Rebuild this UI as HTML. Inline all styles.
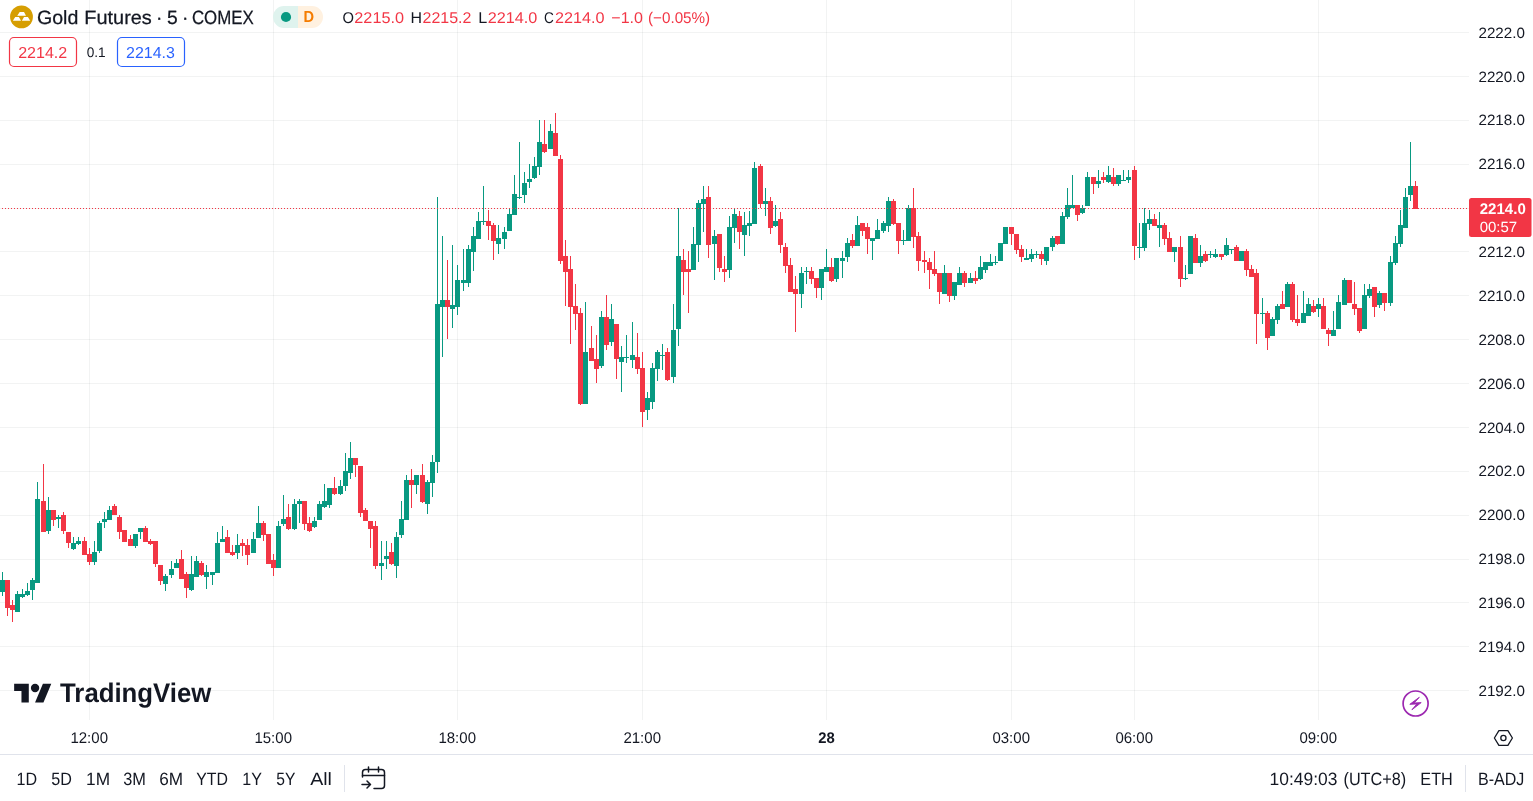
<!DOCTYPE html>
<html lang="en"><head><meta charset="utf-8"><title>Gold Futures · 5 · COMEX</title>
<style>html,body{margin:0;padding:0;background:#fff;overflow:hidden}body{width:1533px;height:801px;position:relative}svg{position:absolute;left:0;top:0;display:block}text{font-family:"Liberation Sans",sans-serif;white-space:pre;text-rendering:geometricPrecision}</style>
</head><body>
<svg width="1533" height="801" viewBox="0 0 1533 801">
<rect width="1533" height="801" fill="#fff"/>
<g stroke="#2a2e39" stroke-opacity="0.06" stroke-width="1" shape-rendering="crispEdges">
<line x1="0" y1="32.5" x2="1469" y2="32.5"/>
<line x1="0" y1="76.5" x2="1469" y2="76.5"/>
<line x1="0" y1="120.5" x2="1469" y2="120.5"/>
<line x1="0" y1="164.5" x2="1469" y2="164.5"/>
<line x1="0" y1="208.5" x2="1469" y2="208.5"/>
<line x1="0" y1="251.5" x2="1469" y2="251.5"/>
<line x1="0" y1="295.5" x2="1469" y2="295.5"/>
<line x1="0" y1="339.5" x2="1469" y2="339.5"/>
<line x1="0" y1="383.5" x2="1469" y2="383.5"/>
<line x1="0" y1="427.5" x2="1469" y2="427.5"/>
<line x1="0" y1="471.5" x2="1469" y2="471.5"/>
<line x1="0" y1="515.5" x2="1469" y2="515.5"/>
<line x1="0" y1="559.5" x2="1469" y2="559.5"/>
<line x1="0" y1="602.5" x2="1469" y2="602.5"/>
<line x1="0" y1="646.5" x2="1469" y2="646.5"/>
<line x1="0" y1="690.5" x2="1469" y2="690.5"/>
<line x1="89.5" y1="0" x2="89.5" y2="719.5"/>
<line x1="273.5" y1="0" x2="273.5" y2="719.5"/>
<line x1="457.5" y1="0" x2="457.5" y2="719.5"/>
<line x1="642.5" y1="0" x2="642.5" y2="719.5"/>
<line x1="826.5" y1="0" x2="826.5" y2="719.5"/>
<line x1="1011.5" y1="0" x2="1011.5" y2="719.5"/>
<line x1="1134.5" y1="0" x2="1134.5" y2="719.5"/>
<line x1="1318.5" y1="0" x2="1318.5" y2="719.5"/>
</g>
<g id="candles">
<path fill="#089981" d="M2 572h1V596h-1zM0 580h5V592h-5z"/>
<path fill="#f23645" d="M7 580h1V616h-1zM5 580h5V608h-5z"/>
<path fill="#f23645" d="M12 600h1V622h-1zM10 605h5V610h-5z"/>
<path fill="#089981" d="M17 591h1V612h-1zM15 594h5V612h-5z"/>
<path fill="#089981" d="M22 589h1V598h-1zM20 594h5V597h-5z"/>
<path fill="#089981" d="M27 583h1V596h-1zM25 591h5V595h-5z"/>
<path fill="#089981" d="M32 578h1V600h-1zM30 580h5V590h-5z"/>
<path fill="#089981" d="M37 482h1V583h-1zM35 499h5V583h-5z"/>
<path fill="#f23645" d="M43 464h1V532h-1zM41 501h5V532h-5z"/>
<path fill="#089981" d="M48 497h1V534h-1zM46 510h5V531h-5z"/>
<path fill="#f23645" d="M53 510h1V526h-1zM51 510h5V520h-5z"/>
<path fill="#089981" d="M58 515h1V528h-1zM56 517h5V519h-5z"/>
<path fill="#f23645" d="M63 512h1V534h-1zM61 515h5V531h-5z"/>
<path fill="#f23645" d="M68 532h1V548h-1zM66 532h5V543h-5z"/>
<path fill="#089981" d="M73 537h1V550h-1zM71 543h5V549h-5z"/>
<path fill="#089981" d="M78 537h1V545h-1zM76 541h5V544h-5z"/>
<path fill="#f23645" d="M84 537h1V555h-1zM82 541h5V555h-5z"/>
<path fill="#f23645" d="M89 548h1V565h-1zM87 554h5V562h-5z"/>
<path fill="#089981" d="M94 541h1V565h-1zM92 552h5V562h-5z"/>
<path fill="#089981" d="M99 521h1V553h-1zM97 523h5V551h-5z"/>
<path fill="#089981" d="M104 512h1V528h-1zM102 519h5V522h-5z"/>
<path fill="#089981" d="M109 506h1V520h-1zM107 510h5V520h-5z"/>
<path fill="#f23645" d="M114 504h1V515h-1zM112 506h5V515h-5z"/>
<path fill="#f23645" d="M119 515h1V539h-1zM117 517h5V532h-5z"/>
<path fill="#f23645" d="M124 530h1V542h-1zM122 530h5V542h-5z"/>
<path fill="#f23645" d="M130 535h1V546h-1zM128 539h5V546h-5z"/>
<path fill="#089981" d="M135 534h1V548h-1zM133 534h5V546h-5z"/>
<path fill="#089981" d="M140 528h1V539h-1zM138 528h5V532h-5z"/>
<path fill="#f23645" d="M145 526h1V542h-1zM143 528h5V542h-5z"/>
<path fill="#f23645" d="M150 539h1V545h-1zM148 541h5V544h-5z"/>
<path fill="#f23645" d="M155 541h1V567h-1zM153 541h5V564h-5z"/>
<path fill="#f23645" d="M160 565h1V585h-1zM158 565h5V581h-5z"/>
<path fill="#089981" d="M165 574h1V591h-1zM163 576h5V584h-5z"/>
<path fill="#089981" d="M171 561h1V578h-1zM169 569h5V575h-5z"/>
<path fill="#089981" d="M176 559h1V568h-1zM174 563h5V568h-5z"/>
<path fill="#f23645" d="M181 550h1V579h-1zM179 559h5V579h-5z"/>
<path fill="#f23645" d="M186 572h1V598h-1zM184 574h5V588h-5z"/>
<path fill="#089981" d="M191 556h1V591h-1zM189 574h5V590h-5z"/>
<path fill="#089981" d="M196 556h1V577h-1zM194 561h5V577h-5z"/>
<path fill="#f23645" d="M201 561h1V576h-1zM199 563h5V575h-5z"/>
<path fill="#089981" d="M206 565h1V589h-1zM204 572h5V577h-5z"/>
<path fill="#089981" d="M212 572h1V585h-1zM210 572h5V575h-5z"/>
<path fill="#089981" d="M217 532h1V573h-1zM215 543h5V573h-5z"/>
<path fill="#089981" d="M222 526h1V542h-1zM220 539h5V542h-5z"/>
<path fill="#f23645" d="M227 530h1V553h-1zM225 537h5V553h-5z"/>
<path fill="#f23645" d="M232 545h1V556h-1zM230 552h5V555h-5z"/>
<path fill="#089981" d="M237 534h1V559h-1zM235 545h5V553h-5z"/>
<path fill="#f23645" d="M242 539h1V556h-1zM240 543h5V546h-5z"/>
<path fill="#f23645" d="M247 539h1V565h-1zM245 545h5V555h-5z"/>
<path fill="#089981" d="M253 532h1V553h-1zM251 539h5V553h-5z"/>
<path fill="#089981" d="M258 506h1V538h-1zM256 523h5V538h-5z"/>
<path fill="#f23645" d="M263 521h1V541h-1zM261 523h5V535h-5z"/>
<path fill="#f23645" d="M268 534h1V564h-1zM266 534h5V564h-5z"/>
<path fill="#f23645" d="M273 554h1V576h-1zM271 560h5V568h-5z"/>
<path fill="#089981" d="M278 521h1V568h-1zM276 526h5V568h-5z"/>
<path fill="#089981" d="M283 495h1V526h-1zM281 519h5V524h-5z"/>
<path fill="#f23645" d="M288 504h1V530h-1zM286 517h5V529h-5z"/>
<path fill="#089981" d="M294 499h1V530h-1zM292 504h5V529h-5z"/>
<path fill="#089981" d="M299 499h1V523h-1zM297 501h5V504h-5z"/>
<path fill="#f23645" d="M304 501h1V530h-1zM302 501h5V524h-5z"/>
<path fill="#f23645" d="M309 517h1V532h-1zM307 523h5V531h-5z"/>
<path fill="#089981" d="M314 517h1V528h-1zM312 521h5V527h-5z"/>
<path fill="#089981" d="M319 501h1V520h-1zM317 504h5V520h-5z"/>
<path fill="#089981" d="M324 484h1V508h-1zM322 501h5V507h-5z"/>
<path fill="#089981" d="M329 488h1V508h-1zM327 488h5V505h-5z"/>
<path fill="#f23645" d="M334 477h1V495h-1zM332 488h5V494h-5z"/>
<path fill="#089981" d="M340 480h1V495h-1zM338 486h5V494h-5z"/>
<path fill="#089981" d="M345 453h1V491h-1zM343 471h5V486h-5z"/>
<path fill="#089981" d="M350 442h1V479h-1zM348 458h5V473h-5z"/>
<path fill="#f23645" d="M355 458h1V477h-1zM353 458h5V465h-5z"/>
<path fill="#f23645" d="M360 466h1V517h-1zM358 466h5V513h-5z"/>
<path fill="#f23645" d="M365 508h1V521h-1zM363 510h5V521h-5z"/>
<path fill="#f23645" d="M370 521h1V548h-1zM368 521h5V529h-5z"/>
<path fill="#f23645" d="M375 521h1V569h-1zM373 526h5V566h-5z"/>
<path fill="#089981" d="M381 541h1V580h-1zM379 563h5V566h-5z"/>
<path fill="#089981" d="M386 541h1V569h-1zM384 556h5V559h-5z"/>
<path fill="#f23645" d="M391 543h1V565h-1zM389 552h5V564h-5z"/>
<path fill="#089981" d="M396 532h1V578h-1zM394 537h5V566h-5z"/>
<path fill="#089981" d="M401 501h1V538h-1zM399 519h5V535h-5z"/>
<path fill="#089981" d="M406 475h1V520h-1zM404 480h5V520h-5z"/>
<path fill="#f23645" d="M411 469h1V508h-1zM409 480h5V485h-5z"/>
<path fill="#089981" d="M416 475h1V494h-1zM414 475h5V485h-5z"/>
<path fill="#f23645" d="M422 464h1V503h-1zM420 475h5V502h-5z"/>
<path fill="#089981" d="M427 480h1V514h-1zM425 482h5V504h-5z"/>
<path fill="#089981" d="M432 455h1V497h-1zM430 462h5V483h-5z"/>
<path fill="#089981" d="M437 197h1V473h-1zM435 304h5V462h-5z"/>
<path fill="#089981" d="M442 236h1V357h-1zM440 300h5V307h-5z"/>
<path fill="#f23645" d="M447 260h1V339h-1zM445 300h5V307h-5z"/>
<path fill="#089981" d="M452 245h1V328h-1zM450 305h5V309h-5z"/>
<path fill="#089981" d="M457 265h1V315h-1zM455 280h5V307h-5z"/>
<path fill="#089981" d="M463 249h1V291h-1zM461 280h5V283h-5z"/>
<path fill="#089981" d="M468 245h1V287h-1zM466 249h5V283h-5z"/>
<path fill="#089981" d="M473 227h1V271h-1zM471 236h5V252h-5z"/>
<path fill="#089981" d="M478 212h1V239h-1zM476 221h5V239h-5z"/>
<path fill="#089981" d="M483 186h1V225h-1zM481 221h5V222h-5z"/>
<path fill="#f23645" d="M488 210h1V240h-1zM486 221h5V226h-5z"/>
<path fill="#f23645" d="M493 223h1V260h-1zM491 225h5V241h-5z"/>
<path fill="#089981" d="M498 225h1V254h-1zM496 238h5V244h-5z"/>
<path fill="#089981" d="M504 227h1V249h-1zM502 232h5V239h-5z"/>
<path fill="#089981" d="M509 208h1V231h-1zM507 214h5V231h-5z"/>
<path fill="#089981" d="M514 175h1V215h-1zM512 194h5V215h-5z"/>
<path fill="#089981" d="M519 142h1V199h-1zM517 197h5V198h-5z"/>
<path fill="#089981" d="M524 172h1V203h-1zM522 183h5V195h-5z"/>
<path fill="#089981" d="M529 164h1V188h-1zM527 179h5V182h-5z"/>
<path fill="#089981" d="M534 157h1V179h-1zM532 166h5V178h-5z"/>
<path fill="#089981" d="M539 120h1V175h-1zM537 142h5V167h-5z"/>
<path fill="#f23645" d="M544 120h1V153h-1zM542 144h5V152h-5z"/>
<path fill="#089981" d="M550 124h1V149h-1zM548 131h5V149h-5z"/>
<path fill="#f23645" d="M555 113h1V156h-1zM553 133h5V156h-5z"/>
<path fill="#f23645" d="M560 155h1V264h-1zM558 159h5V261h-5z"/>
<path fill="#f23645" d="M565 240h1V306h-1zM563 256h5V272h-5z"/>
<path fill="#f23645" d="M570 256h1V344h-1zM568 269h5V307h-5z"/>
<path fill="#f23645" d="M575 284h1V330h-1zM573 306h5V314h-5z"/>
<path fill="#f23645" d="M580 308h1V405h-1zM578 313h5V404h-5z"/>
<path fill="#089981" d="M585 302h1V404h-1zM583 352h5V404h-5z"/>
<path fill="#f23645" d="M591 326h1V361h-1zM589 348h5V361h-5z"/>
<path fill="#f23645" d="M596 335h1V383h-1zM594 359h5V369h-5z"/>
<path fill="#089981" d="M601 311h1V368h-1zM599 317h5V366h-5z"/>
<path fill="#f23645" d="M606 295h1V350h-1zM604 317h5V345h-5z"/>
<path fill="#089981" d="M611 304h1V346h-1zM609 319h5V342h-5z"/>
<path fill="#f23645" d="M616 324h1V379h-1zM614 324h5V359h-5z"/>
<path fill="#089981" d="M621 346h1V392h-1zM619 357h5V362h-5z"/>
<path fill="#089981" d="M626 335h1V363h-1zM624 357h5V358h-5z"/>
<path fill="#089981" d="M632 322h1V368h-1zM630 355h5V360h-5z"/>
<path fill="#f23645" d="M637 333h1V374h-1zM635 357h5V369h-5z"/>
<path fill="#f23645" d="M642 352h1V427h-1zM640 368h5V412h-5z"/>
<path fill="#089981" d="M647 392h1V420h-1zM645 398h5V410h-5z"/>
<path fill="#089981" d="M652 363h1V409h-1zM650 368h5V402h-5z"/>
<path fill="#089981" d="M657 350h1V381h-1zM655 352h5V369h-5z"/>
<path fill="#089981" d="M662 344h1V370h-1zM660 355h5V356h-5z"/>
<path fill="#f23645" d="M667 348h1V381h-1zM665 352h5V380h-5z"/>
<path fill="#089981" d="M673 304h1V383h-1zM671 330h5V377h-5z"/>
<path fill="#089981" d="M678 208h1V346h-1zM676 256h5V329h-5z"/>
<path fill="#f23645" d="M683 249h1V295h-1zM681 260h5V272h-5z"/>
<path fill="#f23645" d="M688 251h1V313h-1zM686 269h5V272h-5z"/>
<path fill="#089981" d="M693 227h1V270h-1zM691 244h5V270h-5z"/>
<path fill="#089981" d="M698 200h1V262h-1zM696 203h5V245h-5z"/>
<path fill="#089981" d="M703 186h1V232h-1zM701 199h5V204h-5z"/>
<path fill="#f23645" d="M708 186h1V258h-1zM706 197h5V245h-5z"/>
<path fill="#089981" d="M714 230h1V280h-1zM712 236h5V244h-5z"/>
<path fill="#f23645" d="M719 234h1V272h-1zM717 234h5V268h-5z"/>
<path fill="#f23645" d="M724 256h1V282h-1zM722 269h5V272h-5z"/>
<path fill="#089981" d="M729 216h1V278h-1zM727 227h5V270h-5z"/>
<path fill="#089981" d="M734 208h1V243h-1zM732 214h5V228h-5z"/>
<path fill="#f23645" d="M739 211h1V249h-1zM737 216h5V232h-5z"/>
<path fill="#089981" d="M744 212h1V256h-1zM742 225h5V235h-5z"/>
<path fill="#089981" d="M749 211h1V236h-1zM747 223h5V226h-5z"/>
<path fill="#089981" d="M754 162h1V224h-1zM752 168h5V224h-5z"/>
<path fill="#f23645" d="M760 164h1V208h-1zM758 166h5V204h-5z"/>
<path fill="#089981" d="M765 188h1V216h-1zM763 201h5V204h-5z"/>
<path fill="#f23645" d="M770 197h1V234h-1zM768 201h5V228h-5z"/>
<path fill="#089981" d="M775 205h1V227h-1zM773 221h5V226h-5z"/>
<path fill="#f23645" d="M780 212h1V253h-1zM778 219h5V245h-5z"/>
<path fill="#f23645" d="M785 243h1V273h-1zM783 247h5V266h-5z"/>
<path fill="#f23645" d="M790 258h1V292h-1zM788 265h5V292h-5z"/>
<path fill="#f23645" d="M795 276h1V332h-1zM793 289h5V294h-5z"/>
<path fill="#089981" d="M801 267h1V308h-1zM799 273h5V294h-5z"/>
<path fill="#089981" d="M806 267h1V284h-1zM804 271h5V272h-5z"/>
<path fill="#f23645" d="M811 267h1V284h-1zM809 271h5V279h-5z"/>
<path fill="#f23645" d="M816 278h1V298h-1zM814 278h5V288h-5z"/>
<path fill="#089981" d="M821 269h1V300h-1zM819 269h5V288h-5z"/>
<path fill="#089981" d="M826 249h1V272h-1zM824 267h5V272h-5z"/>
<path fill="#f23645" d="M831 258h1V282h-1zM829 267h5V281h-5z"/>
<path fill="#089981" d="M836 258h1V282h-1zM834 258h5V279h-5z"/>
<path fill="#089981" d="M842 251h1V278h-1zM840 258h5V261h-5z"/>
<path fill="#089981" d="M847 238h1V262h-1zM845 243h5V257h-5z"/>
<path fill="#f23645" d="M852 234h1V248h-1zM850 240h5V246h-5z"/>
<path fill="#089981" d="M857 216h1V246h-1zM855 225h5V246h-5z"/>
<path fill="#f23645" d="M862 223h1V236h-1zM860 223h5V231h-5z"/>
<path fill="#f23645" d="M867 223h1V254h-1zM865 227h5V239h-5z"/>
<path fill="#089981" d="M872 238h1V260h-1zM870 238h5V241h-5z"/>
<path fill="#089981" d="M877 219h1V239h-1zM875 230h5V239h-5z"/>
<path fill="#089981" d="M883 221h1V233h-1zM881 223h5V231h-5z"/>
<path fill="#089981" d="M888 197h1V232h-1zM886 201h5V226h-5z"/>
<path fill="#f23645" d="M893 199h1V225h-1zM891 201h5V224h-5z"/>
<path fill="#f23645" d="M898 223h1V254h-1zM896 223h5V241h-5z"/>
<path fill="#089981" d="M903 230h1V245h-1zM901 240h5V241h-5z"/>
<path fill="#089981" d="M908 205h1V241h-1zM906 208h5V241h-5z"/>
<path fill="#f23645" d="M913 188h1V248h-1zM911 208h5V237h-5z"/>
<path fill="#f23645" d="M918 232h1V271h-1zM916 236h5V261h-5z"/>
<path fill="#f23645" d="M924 251h1V273h-1zM922 260h5V262h-5z"/>
<path fill="#f23645" d="M929 258h1V289h-1zM927 262h5V270h-5z"/>
<path fill="#f23645" d="M934 251h1V276h-1zM932 269h5V274h-5z"/>
<path fill="#f23645" d="M939 273h1V304h-1zM937 273h5V292h-5z"/>
<path fill="#089981" d="M944 265h1V294h-1zM942 273h5V294h-5z"/>
<path fill="#f23645" d="M949 273h1V302h-1zM947 273h5V296h-5z"/>
<path fill="#089981" d="M954 282h1V300h-1zM952 282h5V296h-5z"/>
<path fill="#089981" d="M959 267h1V285h-1zM957 273h5V285h-5z"/>
<path fill="#f23645" d="M964 271h1V287h-1zM962 273h5V283h-5z"/>
<path fill="#089981" d="M970 273h1V283h-1zM968 278h5V283h-5z"/>
<path fill="#f23645" d="M975 271h1V284h-1zM973 278h5V281h-5z"/>
<path fill="#089981" d="M980 256h1V280h-1zM978 267h5V279h-5z"/>
<path fill="#089981" d="M985 262h1V273h-1zM983 262h5V270h-5z"/>
<path fill="#089981" d="M990 254h1V266h-1zM988 262h5V266h-5z"/>
<path fill="#089981" d="M995 256h1V265h-1zM993 262h5V263h-5z"/>
<path fill="#089981" d="M1000 243h1V261h-1zM998 243h5V261h-5z"/>
<path fill="#089981" d="M1005 227h1V244h-1zM1003 227h5V244h-5z"/>
<path fill="#f23645" d="M1011 227h1V245h-1zM1009 227h5V234h-5z"/>
<path fill="#f23645" d="M1016 234h1V254h-1zM1014 234h5V250h-5z"/>
<path fill="#f23645" d="M1021 245h1V262h-1zM1019 249h5V257h-5z"/>
<path fill="#089981" d="M1026 249h1V260h-1zM1024 258h5V260h-5z"/>
<path fill="#089981" d="M1031 249h1V262h-1zM1029 254h5V259h-5z"/>
<path fill="#089981" d="M1036 251h1V258h-1zM1034 254h5V255h-5z"/>
<path fill="#f23645" d="M1041 251h1V265h-1zM1039 254h5V259h-5z"/>
<path fill="#089981" d="M1046 247h1V265h-1zM1044 247h5V261h-5z"/>
<path fill="#089981" d="M1052 236h1V251h-1zM1050 238h5V247h-5z"/>
<path fill="#f23645" d="M1057 236h1V245h-1zM1055 236h5V244h-5z"/>
<path fill="#089981" d="M1062 212h1V244h-1zM1060 216h5V244h-5z"/>
<path fill="#089981" d="M1067 188h1V219h-1zM1065 205h5V217h-5z"/>
<path fill="#089981" d="M1072 175h1V208h-1zM1070 205h5V208h-5z"/>
<path fill="#f23645" d="M1077 205h1V221h-1zM1075 205h5V215h-5z"/>
<path fill="#089981" d="M1082 205h1V214h-1zM1080 208h5V213h-5z"/>
<path fill="#089981" d="M1087 172h1V206h-1zM1085 177h5V206h-5z"/>
<path fill="#f23645" d="M1093 177h1V194h-1zM1091 177h5V184h-5z"/>
<path fill="#089981" d="M1098 170h1V188h-1zM1096 181h5V184h-5z"/>
<path fill="#f23645" d="M1103 172h1V183h-1zM1101 177h5V180h-5z"/>
<path fill="#089981" d="M1108 166h1V183h-1zM1106 175h5V182h-5z"/>
<path fill="#f23645" d="M1113 168h1V186h-1zM1111 177h5V184h-5z"/>
<path fill="#089981" d="M1118 175h1V186h-1zM1116 175h5V184h-5z"/>
<path fill="#089981" d="M1123 170h1V181h-1zM1121 180h5V181h-5z"/>
<path fill="#089981" d="M1128 170h1V183h-1zM1126 177h5V180h-5z"/>
<path fill="#f23645" d="M1134 166h1V260h-1zM1132 170h5V246h-5z"/>
<path fill="#089981" d="M1139 223h1V258h-1zM1137 247h5V248h-5z"/>
<path fill="#089981" d="M1144 208h1V251h-1zM1142 223h5V248h-5z"/>
<path fill="#089981" d="M1149 210h1V230h-1zM1147 219h5V224h-5z"/>
<path fill="#f23645" d="M1154 214h1V226h-1zM1152 219h5V226h-5z"/>
<path fill="#089981" d="M1159 212h1V247h-1zM1157 225h5V228h-5z"/>
<path fill="#f23645" d="M1164 223h1V245h-1zM1162 225h5V239h-5z"/>
<path fill="#f23645" d="M1169 232h1V252h-1zM1167 238h5V252h-5z"/>
<path fill="#089981" d="M1174 247h1V262h-1zM1172 247h5V252h-5z"/>
<path fill="#f23645" d="M1180 236h1V287h-1zM1178 247h5V279h-5z"/>
<path fill="#089981" d="M1185 265h1V280h-1zM1183 278h5V279h-5z"/>
<path fill="#089981" d="M1190 236h1V274h-1zM1188 236h5V274h-5z"/>
<path fill="#f23645" d="M1195 234h1V263h-1zM1193 238h5V263h-5z"/>
<path fill="#089981" d="M1200 245h1V267h-1zM1198 256h5V263h-5z"/>
<path fill="#f23645" d="M1205 251h1V262h-1zM1203 254h5V261h-5z"/>
<path fill="#089981" d="M1210 251h1V258h-1zM1208 254h5V255h-5z"/>
<path fill="#089981" d="M1215 249h1V258h-1zM1213 254h5V257h-5z"/>
<path fill="#f23645" d="M1221 254h1V260h-1zM1219 254h5V257h-5z"/>
<path fill="#089981" d="M1226 238h1V256h-1zM1224 245h5V255h-5z"/>
<path fill="#089981" d="M1231 249h1V254h-1zM1229 249h5V250h-5z"/>
<path fill="#f23645" d="M1236 245h1V261h-1zM1234 247h5V261h-5z"/>
<path fill="#089981" d="M1241 251h1V261h-1zM1239 251h5V261h-5z"/>
<path fill="#f23645" d="M1246 249h1V276h-1zM1244 251h5V270h-5z"/>
<path fill="#f23645" d="M1251 265h1V277h-1zM1249 269h5V277h-5z"/>
<path fill="#f23645" d="M1256 269h1V344h-1zM1254 273h5V314h-5z"/>
<path fill="#089981" d="M1262 298h1V324h-1zM1260 313h5V314h-5z"/>
<path fill="#f23645" d="M1267 311h1V350h-1zM1265 313h5V338h-5z"/>
<path fill="#089981" d="M1272 317h1V336h-1zM1270 319h5V336h-5z"/>
<path fill="#089981" d="M1277 304h1V324h-1zM1275 306h5V320h-5z"/>
<path fill="#f23645" d="M1282 291h1V309h-1zM1280 304h5V309h-5z"/>
<path fill="#089981" d="M1287 282h1V307h-1zM1285 284h5V307h-5z"/>
<path fill="#f23645" d="M1292 282h1V322h-1zM1290 284h5V320h-5z"/>
<path fill="#f23645" d="M1297 295h1V326h-1zM1295 319h5V323h-5z"/>
<path fill="#089981" d="M1303 291h1V323h-1zM1301 313h5V323h-5z"/>
<path fill="#089981" d="M1308 298h1V316h-1zM1306 304h5V316h-5z"/>
<path fill="#f23645" d="M1313 300h1V313h-1zM1311 306h5V312h-5z"/>
<path fill="#089981" d="M1318 298h1V317h-1zM1316 304h5V309h-5z"/>
<path fill="#f23645" d="M1323 298h1V329h-1zM1321 306h5V329h-5z"/>
<path fill="#f23645" d="M1328 328h1V346h-1zM1326 330h5V334h-5z"/>
<path fill="#089981" d="M1333 311h1V336h-1zM1331 330h5V336h-5z"/>
<path fill="#089981" d="M1338 295h1V329h-1zM1336 302h5V329h-5z"/>
<path fill="#089981" d="M1344 278h1V305h-1zM1342 280h5V305h-5z"/>
<path fill="#f23645" d="M1349 280h1V303h-1zM1347 280h5V303h-5z"/>
<path fill="#f23645" d="M1354 282h1V315h-1zM1352 304h5V309h-5z"/>
<path fill="#f23645" d="M1359 308h1V333h-1zM1357 308h5V331h-5z"/>
<path fill="#089981" d="M1364 284h1V329h-1zM1362 295h5V329h-5z"/>
<path fill="#089981" d="M1369 284h1V298h-1zM1367 289h5V296h-5z"/>
<path fill="#f23645" d="M1374 287h1V317h-1zM1372 287h5V307h-5z"/>
<path fill="#089981" d="M1379 291h1V308h-1zM1377 293h5V305h-5z"/>
<path fill="#f23645" d="M1384 293h1V311h-1zM1382 293h5V303h-5z"/>
<path fill="#089981" d="M1390 256h1V306h-1zM1388 262h5V303h-5z"/>
<path fill="#089981" d="M1395 236h1V265h-1zM1393 243h5V263h-5z"/>
<path fill="#089981" d="M1400 210h1V247h-1zM1398 225h5V244h-5z"/>
<path fill="#089981" d="M1405 188h1V228h-1zM1403 197h5V228h-5z"/>
<path fill="#089981" d="M1410 142h1V201h-1zM1408 186h5V195h-5z"/>
<path fill="#f23645" d="M1415 181h1V209h-1zM1413 186h5V209h-5z"/>
</g>
<!-- last price dotted line -->
<line x1="2" y1="208.5" x2="1469" y2="208.5" stroke="#f23645" stroke-width="1" stroke-dasharray="1 2" shape-rendering="crispEdges"/>
<!-- header: symbol -->
<g id="legend">
<circle cx="21.5" cy="16.9" r="11.4" fill="#d69e02"/>
<path fill="#fff" d="M19.7 11.9H24L26 15.700H17.200zM15.200 17H18.900L21 20.700H12.900zM24 17H27.900L30.200 20.700H21.900z"/>
<text y="24" font-size="19.23" fill="#131722" stroke="#131722" stroke-width="0.25"><tspan x="37.01" textLength="41.38" lengthAdjust="spacingAndGlyphs">Gold</tspan> <tspan x="84.3" textLength="67.54" lengthAdjust="spacingAndGlyphs">Futures</tspan> <tspan x="156">·</tspan> <tspan x="167.12" textLength="10.75" lengthAdjust="spacingAndGlyphs">5</tspan> <tspan x="182">·</tspan> <tspan x="191.9" textLength="61.86" lengthAdjust="spacingAndGlyphs">COMEX</tspan></text>
<path d="M284 6h14v22h-14a11 11 0 0 1 0-22z" fill="#dff3ee"/>
<path d="M298 6h14a11 11 0 0 1 0 22h-14z" fill="#fff1e0"/>
<circle cx="286" cy="17" r="5.1" fill="#089981"/>
<text x="303.62" y="22" font-size="15.98" font-weight="bold" fill="#f57c00" textLength="10.58" lengthAdjust="spacingAndGlyphs">D</text>
<text x="342.46" y="23" font-size="15.58" fill="#131722" textLength="11.46" lengthAdjust="spacingAndGlyphs">O</text><text x="354.33" y="23" font-size="15.58" fill="#f23645" textLength="49.67" lengthAdjust="spacingAndGlyphs">2215.0</text>
<text x="410.49" y="23" font-size="15.58" fill="#131722" textLength="11.53" lengthAdjust="spacingAndGlyphs">H</text><text x="422.63" y="23" font-size="15.58" fill="#f23645" textLength="48.8" lengthAdjust="spacingAndGlyphs">2215.2</text>
<text x="478.39" y="23" font-size="15.58" fill="#131722" textLength="8.99" lengthAdjust="spacingAndGlyphs">L</text><text x="487.75" y="23" font-size="15.58" fill="#f23645" textLength="49.61" lengthAdjust="spacingAndGlyphs">2214.0</text>
<text x="544.04" y="23" font-size="15.58" fill="#131722" textLength="9.81" lengthAdjust="spacingAndGlyphs">C</text><text x="554.95" y="23" font-size="15.58" fill="#f23645" textLength="49.54" lengthAdjust="spacingAndGlyphs">2214.0</text>
<text x="611.39" y="23" font-size="15.58" fill="#f23645" textLength="31.59" lengthAdjust="spacingAndGlyphs">−1.0</text>
<text x="648" y="23" font-size="15.58" fill="#f23645" textLength="62.16" lengthAdjust="spacingAndGlyphs">(−0.05%)</text>
<rect x="9.5" y="37.5" width="67" height="29" rx="4.5" fill="#fff" stroke="#f23645" stroke-width="1.2"/>
<text x="18.15" y="58" font-size="15.83" fill="#f23645" textLength="49.08" lengthAdjust="spacingAndGlyphs">2214.2</text>
<text x="86.74" y="57" font-size="13.8" fill="#131722" textLength="18.97" lengthAdjust="spacingAndGlyphs">0.1</text>
<rect x="117.5" y="37.5" width="67" height="29" rx="4.5" fill="#fff" stroke="#2962ff" stroke-width="1.2"/>
<text x="126.11" y="58" font-size="15.83" fill="#2962ff" textLength="48.81" lengthAdjust="spacingAndGlyphs">2214.3</text>
</g>
<!-- price axis -->
<g id="paxis" font-size="14.96" fill="#131722">
<text x="1478.46" y="38" textLength="46.52" lengthAdjust="spacingAndGlyphs">2222.0</text>
<text x="1478.46" y="82" textLength="46.52" lengthAdjust="spacingAndGlyphs">2220.0</text>
<text x="1478.46" y="125" textLength="46.52" lengthAdjust="spacingAndGlyphs">2218.0</text>
<text x="1478.46" y="169" textLength="46.52" lengthAdjust="spacingAndGlyphs">2216.0</text>
<text x="1478.46" y="214" textLength="46.52" lengthAdjust="spacingAndGlyphs">2214.0</text>
<text x="1478.46" y="257" textLength="46.52" lengthAdjust="spacingAndGlyphs">2212.0</text>
<text x="1478.46" y="301" textLength="46.52" lengthAdjust="spacingAndGlyphs">2210.0</text>
<text x="1478.46" y="345" textLength="46.52" lengthAdjust="spacingAndGlyphs">2208.0</text>
<text x="1478.46" y="389" textLength="46.52" lengthAdjust="spacingAndGlyphs">2206.0</text>
<text x="1478.46" y="433" textLength="46.52" lengthAdjust="spacingAndGlyphs">2204.0</text>
<text x="1478.46" y="476" textLength="46.52" lengthAdjust="spacingAndGlyphs">2202.0</text>
<text x="1478.46" y="520" textLength="46.52" lengthAdjust="spacingAndGlyphs">2200.0</text>
<text x="1478.46" y="564" textLength="46.52" lengthAdjust="spacingAndGlyphs">2198.0</text>
<text x="1478.46" y="608" textLength="46.52" lengthAdjust="spacingAndGlyphs">2196.0</text>
<text x="1478.46" y="652" textLength="46.52" lengthAdjust="spacingAndGlyphs">2194.0</text>
<text x="1478.46" y="696" textLength="46.52" lengthAdjust="spacingAndGlyphs">2192.0</text>
</g>
<rect x="1469" y="198" width="62.5" height="39" rx="2.5" fill="#f23645"/>
<text x="1479.77" y="214" font-size="15.3" font-weight="bold" fill="#ffffff" textLength="45.98" lengthAdjust="spacingAndGlyphs">2214.0</text>
<text x="1479.69" y="232" font-size="14.77" fill="#ffffff" textLength="37.48" lengthAdjust="spacingAndGlyphs">00:57</text>
<!-- time axis -->
<g id="taxis" font-size="15.4" fill="#131722" text-anchor="middle">
<text x="89.2" y="743" textLength="37.58" lengthAdjust="spacingAndGlyphs">12:00</text>
<text x="273.2" y="743" textLength="37.58" lengthAdjust="spacingAndGlyphs">15:00</text>
<text x="457.2" y="743" textLength="37.58" lengthAdjust="spacingAndGlyphs">18:00</text>
<text x="642.2" y="743" textLength="37.58" lengthAdjust="spacingAndGlyphs">21:00</text>
<text x="826.4" y="743" font-weight="bold" textLength="16.5" lengthAdjust="spacingAndGlyphs">28</text>
<text x="1011.2" y="743" textLength="37.58" lengthAdjust="spacingAndGlyphs">03:00</text>
<text x="1134.2" y="743" textLength="37.58" lengthAdjust="spacingAndGlyphs">06:00</text>
<text x="1318.2" y="743" textLength="37.58" lengthAdjust="spacingAndGlyphs">09:00</text>
</g>
<!-- TradingView logo -->
<g transform="translate(14.15 679.7) scale(1.046 1.036)" fill="#131722">
<path d="M14 22H7V11H0V4h14v18zM28 22h-8l7.5-18h8L28 22z"/><circle cx="20" cy="8" r="4"/>
</g>
<text x="60.05" y="702" font-size="26.77" font-weight="bold" fill="#131722" textLength="151.28" lengthAdjust="spacingAndGlyphs">TradingView</text>
<!-- lightning -->
<circle cx="1415.6" cy="703.5" r="12.5" fill="#fff" stroke="#9c27b0" stroke-width="1.7"/>
<path d="M1419.3 697.3L1409.8 704.300L1416.800 704L1411.900 709.800L1421.200 702.600L1414.200 703Z" fill="#9c27b0" stroke="#9c27b0" stroke-width="0.9" stroke-linejoin="round"/>
<!-- settings hexagon -->
<path d="M1498.9 730.6h9l4.500 7.400-4.500 7.400h-9l-4.500-7.400z" fill="none" stroke="#131722" stroke-width="1.3" stroke-linejoin="round"/>
<circle cx="1503.4" cy="738" r="2.6" fill="none" stroke="#131722" stroke-width="1.3"/>
<!-- bottom toolbar -->
<line x1="0" y1="754.5" x2="1533" y2="754.5" stroke="#e0e3eb" stroke-width="1"/>
<g id="btm">
<text x="16.57" y="785" font-size="17.87" fill="#131722" textLength="20.6" lengthAdjust="spacingAndGlyphs">1D</text>
<text x="51.19" y="785" font-size="17.87" fill="#131722" textLength="20.63" lengthAdjust="spacingAndGlyphs">5D</text>
<text x="86.08" y="785" font-size="17.87" fill="#131722" textLength="23.99" lengthAdjust="spacingAndGlyphs">1M</text>
<text x="123.14" y="785" font-size="17.87" fill="#131722" textLength="22.73" lengthAdjust="spacingAndGlyphs">3M</text>
<text x="159.21" y="785" font-size="17.87" fill="#131722" textLength="23.87" lengthAdjust="spacingAndGlyphs">6M</text>
<text x="196.13" y="785" font-size="17.87" fill="#131722" textLength="31.76" lengthAdjust="spacingAndGlyphs">YTD</text>
<text x="242.24" y="785" font-size="17.87" fill="#131722" textLength="19.66" lengthAdjust="spacingAndGlyphs">1Y</text>
<text x="276.3" y="785" font-size="17.87" fill="#131722" textLength="19.1" lengthAdjust="spacingAndGlyphs">5Y</text>
<text x="310.2" y="785" font-size="17.87" fill="#131722" textLength="21.79" lengthAdjust="spacingAndGlyphs">All</text>
<text y="785" font-size="17.87" fill="#131722"><tspan x="1269.56" textLength="67.94" lengthAdjust="spacingAndGlyphs">10:49:03</tspan> <tspan x="1343.49" textLength="62.69" lengthAdjust="spacingAndGlyphs">(UTC+8)</tspan></text>
<text x="1420.32" y="785" font-size="17.87" fill="#131722" textLength="32.48" lengthAdjust="spacingAndGlyphs">ETH</text>
<text x="1478.02" y="785" font-size="17.87" fill="#131722" textLength="46.36" lengthAdjust="spacingAndGlyphs">B-ADJ</text>
</g>
<line x1="344.5" y1="765" x2="344.5" y2="792" stroke="#e0e3eb" stroke-width="1"/>
<line x1="1465.5" y1="765" x2="1465.5" y2="792" stroke="#e0e3eb" stroke-width="1"/>
<!-- calendar goto icon -->
<g fill="none" stroke="#131722" stroke-width="1.5" stroke-linecap="round" stroke-linejoin="round">
<path d="M362.5 777v-4.5a3 3 0 0 1 3-3h16a3 3 0 0 1 3 3v13a3 3 0 0 1-3 3h-7.500"/>
<path d="M362.5 775.500h22M368.500 767v5M378.500 767v5"/>
<path d="M362 784.500h8.500M367 781l3.500 3.500-3.500 3.500"/>
</g>

</svg>
</body></html>
